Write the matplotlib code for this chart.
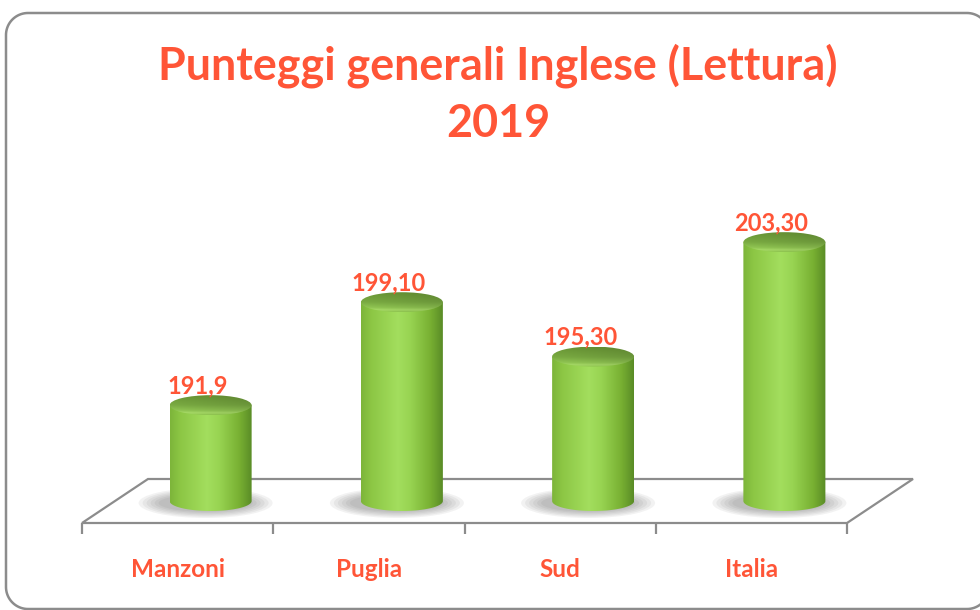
import numpy as np
import matplotlib
matplotlib.use('Agg')
import matplotlib.pyplot as plt
from matplotlib.path import Path
from matplotlib.patches import PathPatch, Ellipse, Polygon
from matplotlib.colors import LinearSegmentedColormap
import matplotlib.transforms as mtransforms

# data
categories = ["Manzoni", "Puglia", "Sud", "Italia"]
values = [191.9, 199.10, 195.30, 203.30]
value_labels = ["191,9", "199,10", "195,30", "203,30"]
title_lines = ["Punteggi generali Inglese (Lettura)", "2019"]

plt.rcParams['font.family'] = ['Lato', 'DejaVu Sans']
RED = '#FF5537'
GREY = '#8C8C8C'

W, H, DPI = 980, 610, 100
fig = plt.figure(figsize=(W / DPI, H / DPI), dpi=DPI)

# value axis: baseline of the cylinders and pixel scale
base = 185.2
px_y = 14.3
y_lo = base - 100 / px_y
y_hi = base + 330 / px_y
ax_left, ax_right = 115, 880
ax = fig.add_axes([ax_left / W, (H - 601) / H, (ax_right - ax_left) / W, 430 / H])
ax.axis('off')

ux = (ax_right - ax_left) / len(categories)


def dx(p):
    return p / ux


def dy(p):
    return p / px_y


# floor in perspective
DEP_X, DEP_Y = 33, 22
x0, x1 = -0.5, len(categories) - 0.5
floor = Polygon([(x0 - dx(DEP_X), base - dy(DEP_Y)), (x1 - dx(DEP_X), base - dy(DEP_Y)),
                 (x1 + dx(DEP_X), base + dy(DEP_Y)), (x0 + dx(DEP_X), base + dy(DEP_Y))],
                closed=True, facecolor='white', edgecolor=GREY, lw=1.6, zorder=1,
                clip_on=False, joinstyle='miter')
ax.add_patch(floor)
for k in range(len(categories) + 1):
    xt = x0 + k - dx(DEP_X)
    ax.plot([xt, xt], [base - dy(DEP_Y), base - dy(DEP_Y + 11)], color=GREY, lw=1.6,
            zorder=1, solid_capstyle='butt', clip_on=False)

body_cmap = LinearSegmentedColormap.from_list('body', [
    (0.0, '#7DB53A'), (0.12, '#8CC644'), (0.45, '#A3DE5E'), (0.6, '#98D452'),
    (0.85, '#78B032'), (1.0, '#5A8C26')])
top_cmap = LinearSegmentedColormap.from_list('top', [
    (0.0, '#6A9736'), (0.5, '#7AAB42'), (0.8, '#93C954'), (0.9, '#AEE26C'), (1.0, '#93CC50')])

rx = dx(82) / 2
ry = dy(10)
t = np.linspace(np.pi, 2 * np.pi, 60)

for i, v in enumerate(values):
    # shadow
    for k in range(6):
        ax.add_patch(Ellipse((i - dx(5), base - dy(2)), dx(134 - 8 * k), dy(30 - 2.5 * k),
                             facecolor='#505050', edgecolor='none', alpha=0.07, zorder=2))

    # body
    verts = [(i - rx, v)] + [(i + rx * np.cos(a), base + ry * np.sin(a)) for a in t] + [(i + rx, v), (i - rx, v)]
    codes = [Path.MOVETO] + [Path.LINETO] * (len(verts) - 2) + [Path.CLOSEPOLY]
    body = PathPatch(Path(verts, codes), facecolor='none', edgecolor='none', zorder=3)
    ax.add_patch(body)
    grad = np.linspace(0, 1, 200).reshape(1, -1)
    im = ax.imshow(grad, cmap=body_cmap, extent=(i - rx, i + rx, base - ry, v),
                   aspect='auto', zorder=3, interpolation='bicubic')
    im.set_clip_path(body)

    # top ellipse
    cap = Ellipse((i, v), 2 * rx, 2 * ry, facecolor='none', edgecolor='none', zorder=4)
    ax.add_patch(cap)
    gy = np.linspace(0, 1, 60).reshape(-1, 1)
    gx = np.linspace(0, 1, 100).reshape(1, -1)
    rgb = top_cmap(gy * np.ones_like(gx))[..., :3]
    rgb = rgb * (1.0 - 0.12 * gx[..., None])
    im2 = ax.imshow(rgb, extent=(i - rx, i + rx, v - ry, v + ry), origin='upper',
                    aspect='auto', zorder=4, interpolation='bicubic')
    im2.set_clip_path(cap)

    ax.text(i - dx(13), v + dy(12), value_labels[i], ha='center', va='baseline',
            color=RED, fontsize=17, fontweight='bold', zorder=5)
    ax.text(i - dx(DEP_X), base - dy(76), categories[i], ha='center', va='baseline',
            color=RED, fontsize=17.5, fontweight='bold', zorder=5, clip_on=False)

ax.set_xlim(x0, x1)
ax.set_ylim(y_lo, y_hi)

fig.text(498 / W, 1 - 79 / H, title_lines[0], ha='center', va='baseline',
         color=RED, fontsize=32.3, fontweight='bold')
fig.text(498 / W, 1 - 137 / H, title_lines[1], ha='center', va='baseline',
         color=RED, fontsize=32.3, fontweight='bold')

# rounded border of the chart area (pixel coordinates, y up)
bx0, bx1, by0, by1, r = 6, 989, 1, 597, 22
arc = np.linspace(0, np.pi / 2, 20)
pts = []
for cx, cy, a0 in [(bx1 - r, by1 - r, 0), (bx0 + r, by1 - r, np.pi / 2),
                   (bx0 + r, by0 + r, np.pi), (bx1 - r, by0 + r, 1.5 * np.pi)]:
    pts += [(cx + r * np.cos(a0 + a), cy + r * np.sin(a0 + a)) for a in arc]
pts.append(pts[0])
frame = PathPatch(Path(pts), transform=mtransforms.IdentityTransform(),
                  facecolor='none', edgecolor=GREY, lw=1.8)
fig.patches.append(frame)

fig.savefig('out.png', dpi=DPI, facecolor='white')
